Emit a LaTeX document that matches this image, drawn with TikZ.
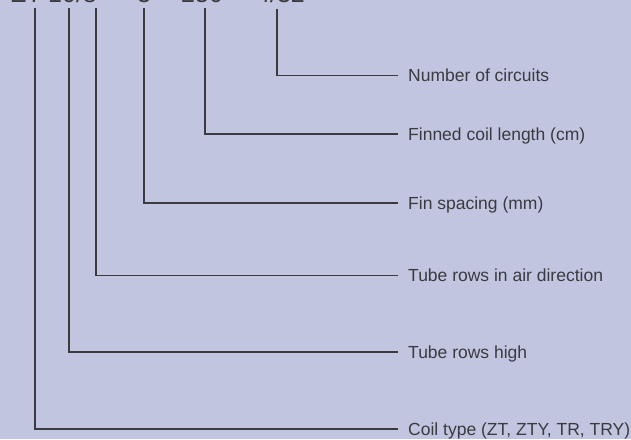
\documentclass[tikz,border=0pt]{standalone}
\usepackage{fontspec}
\setmainfont{Liberation Sans}
\usepackage{tikz}
\usetikzlibrary{positioning,calc}
\definecolor{bgblue}{HTML}{C2C5E0}
\definecolor{inkgray}{HTML}{3A3A40}
\tikzset{
	lead/.style={draw=inkgray, line width=1.1pt},
	part/.style={anchor=base west, inner sep=0pt, text=inkgray, font=\fontsize{25}{25}\selectfont},
	meaning/.style={anchor=west, inner xsep=10pt, inner ysep=0pt, text height=12.6pt, text depth=0pt, text=inkgray, font=\fontsize{17.5}{17.5}\selectfont}
}
\begin{document}
\begin{tikzpicture}[x=1pt,y=-1pt]
			\clip (0,0) rectangle (631,439);
			\fill[bgblue] (0,0) rectangle (631,439);
			%code on top (cut off by the frame)
			\node[part](type) at (11,2){ZT};
			\node[part](rows) at (48,2){10/8};
			\node[part](fins) at (137,2){3};
			\node[part](length) at (181,2){250};
			\node[part](circ) at (256,2){4/32};
			%tops of the leaders
			\coordinate (tType) at (35,8);
			\coordinate (tHigh) at (69,8);
			\coordinate (tAir) at (96,8);
			\coordinate (tFin) at (144,8);
			\coordinate (tLen) at (205,8);
			\coordinate (tCirc) at (277,9);
			%meanings
			\node[meaning](lCirc) at (398,75.5){Number of circuits};
			\node[meaning](lLen) at (398,134){Finned coil length (cm)};
			\node[meaning](lFin) at (398,203){Fin spacing (mm)};
			\node[meaning](lAir) at (398,275.5){Tube rows in air direction};
			\node[meaning](lHigh) at (398,352){Tube rows high};
			\node[meaning](lType) at (398,429){Coil type (ZT, ZTY, TR, TRY)};
			%leaders
			\draw[lead] (tCirc) |- (lCirc.west);
			\draw[lead] (tLen) |- (lLen.west);
			\draw[lead] (tFin) |- (lFin.west);
			\draw[lead] (tAir) |- (lAir.west);
			\draw[lead] (tHigh) |- (lHigh.west);
			\draw[lead] (tType) |- (lType.west);
			\end{tikzpicture}
\end{document}
